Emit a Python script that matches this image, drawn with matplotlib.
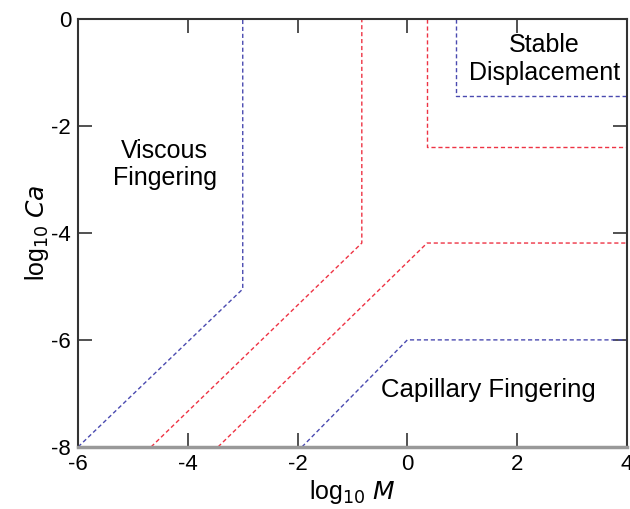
import numpy as np
import matplotlib.pyplot as plt

plt.rcParams['font.family'] = ['Liberation Sans', 'DejaVu Sans']
plt.rcParams['axes.unicode_minus'] = False

# phase boundaries (log10 M, log10 Ca)
blue_left_x = [-6, -3, -3]
blue_left_y = [-8, -5.05, 0]
red_left_x = [-4.67, -0.83, -0.83]
red_left_y = [-8, -4.19, 0]
red_mid_x = [-3.45, 0.36, 4]
red_mid_y = [-8, -4.19, -4.19]
red_top_x = [0.36, 0.36, 4]
red_top_y = [0, -2.4, -2.4]
blue_bot_x = [-1.92, 0, 4]
blue_bot_y = [-8, -6, -6]
blue_top_x = [0.89, 0.89, 4]
blue_top_y = [0, -1.44, -1.44]

xticks = [-6, -4, -2, 0, 2, 4]
yticks = [-8, -6, -4, -2, 0]

blue = '#4a4ab0'
red = '#ee3344'

fig, ax = plt.subplots(figsize=(6.3, 5.09), dpi=100)
fig.subplots_adjust(left=0.124, right=0.995, top=0.963, bottom=0.122)

for xs, ys, c in [(blue_left_x, blue_left_y, blue), (red_left_x, red_left_y, red),
                  (red_mid_x, red_mid_y, red), (red_top_x, red_top_y, red),
                  (blue_bot_x, blue_bot_y, blue), (blue_top_x, blue_top_y, blue)]:
    ax.plot(xs, ys, color=c, lw=1.0, ls=(0, (3, 2)))

ax.text(-4.42, -2.73, 'Viscous\nFingering', ha='center', va='center', fontsize=18, linespacing=1.15)
ax.text(2.5, -0.75, 'Stable\nDisplacement', ha='center', va='center', fontsize=18, linespacing=1.2)
ax.text(1.47, -6.93, 'Capillary Fingering', ha='center', va='center', fontsize=18.5)

ax.set_xlim(-6, 4)
ax.set_ylim(-8, 0)
ax.set_xticks(xticks)
ax.set_yticks(yticks)
ax.tick_params(direction='in', top=True, right=True, length=10, width=1.2,
               labelsize=16, color='#333333', pad=5)
for s in ax.spines.values():
    s.set_linewidth(1.5)
    s.set_color('#333333')
ax.spines['bottom'].set_color('#999999')
ax.spines['bottom'].set_linewidth(2.5)

ax.set_xlabel(r'log$_{10}$ $M$', fontsize=18, labelpad=2)
ax.set_ylabel(r'log$_{10}$ $Ca$', fontsize=18, labelpad=0)

fig.savefig('out.png')
